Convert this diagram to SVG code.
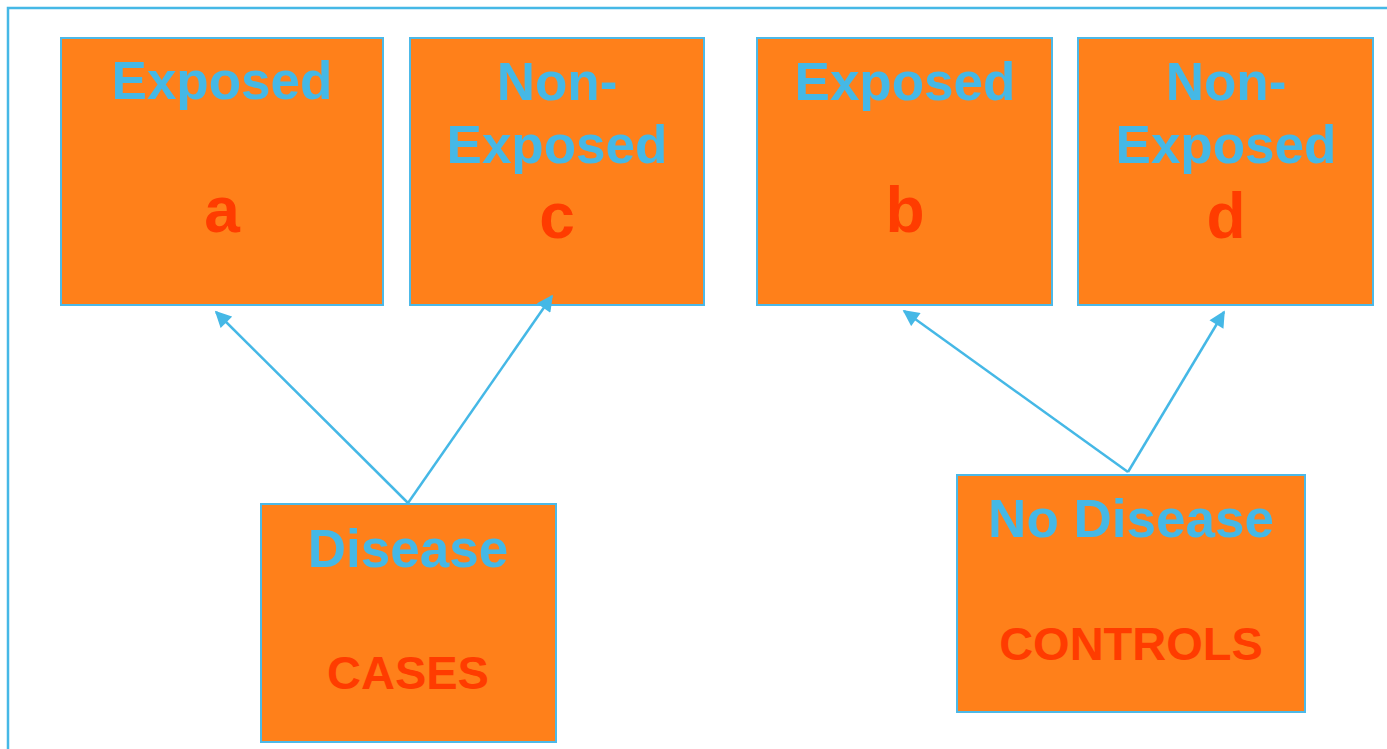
<svg xmlns="http://www.w3.org/2000/svg" width="1387" height="749" viewBox="0 0 1387 749">
  <style>
    .box { fill: #FF801A; stroke: #4CB9E8; stroke-width: 2; }
    .head { font-family: "Liberation Sans", Arial, sans-serif; font-weight: bold; font-size: 53px; fill: #45B8E6; text-anchor: middle; }
    .cell { font-family: "Liberation Sans", Arial, sans-serif; font-weight: bold; font-size: 64px; fill: #FF3C00; text-anchor: middle; }
    .group { font-family: "Liberation Sans", Arial, sans-serif; font-weight: bold; font-size: 47px; fill: #FF3C00; text-anchor: middle; }
    .link { stroke: #45B8E6; stroke-width: 2.5; fill: none; marker-end: url(#arrow); }
  </style>
  <defs>
    <marker id="arrow" viewBox="0 0 10 10" refX="9" refY="5" markerWidth="7" markerHeight="6.5" markerUnits="strokeWidth" orient="auto">
      <path d="M0,0 L10,5 L0,10 z" fill="#45B8E6"/>
    </marker>
  </defs>

  <rect width="1387" height="749" fill="#FFFFFF"/>
  <!-- outer frame -->
  <path d="M8,749 V8 H1387" fill="none" stroke="#45B8E6" stroke-width="2.5"/>

  <g id="exposed-a">
    <rect class="box" x="61" y="38" width="322" height="267"/>
    <text class="head" x="222" y="99">Exposed</text>
    <text class="cell" x="222" y="232">a</text>
  </g>

  <g id="nonexposed-c">
    <rect class="box" x="410" y="38" width="294" height="267"/>
    <text class="head" x="557" y="100">Non-</text>
    <text class="head" x="557" y="163">Exposed</text>
    <text class="cell" x="557" y="238">c</text>
  </g>

  <g id="exposed-b">
    <rect class="box" x="757" y="38" width="295" height="267"/>
    <text class="head" x="905" y="100">Exposed</text>
    <text class="cell" x="905" y="232">b</text>
  </g>

  <g id="nonexposed-d">
    <rect class="box" x="1078" y="38" width="295" height="267"/>
    <text class="head" x="1226" y="100">Non-</text>
    <text class="head" x="1226" y="163">Exposed</text>
    <text class="cell" x="1226" y="238">d</text>
  </g>

  <g id="disease">
    <rect class="box" x="261" y="504" width="295" height="238"/>
    <text class="head" x="408" y="567">Disease</text>
    <text class="group" x="408" y="689">CASES</text>
  </g>

  <g id="no-disease">
    <rect class="box" x="957" y="475" width="348" height="237"/>
    <text class="head" x="1131" y="537">No Disease</text>
    <text class="group" x="1131" y="660">CONTROLS</text>
  </g>

  <!-- arrows drawn over the boxes so heads stay visible -->
  <g id="connectors">
    <line class="link" x1="408" y1="503" x2="216" y2="312"/>
    <line class="link" x1="408" y1="503" x2="552" y2="296"/>
    <line class="link" x1="1128" y1="472" x2="904" y2="311"/>
    <line class="link" x1="1128" y1="472" x2="1224" y2="312"/>
  </g>
</svg>
